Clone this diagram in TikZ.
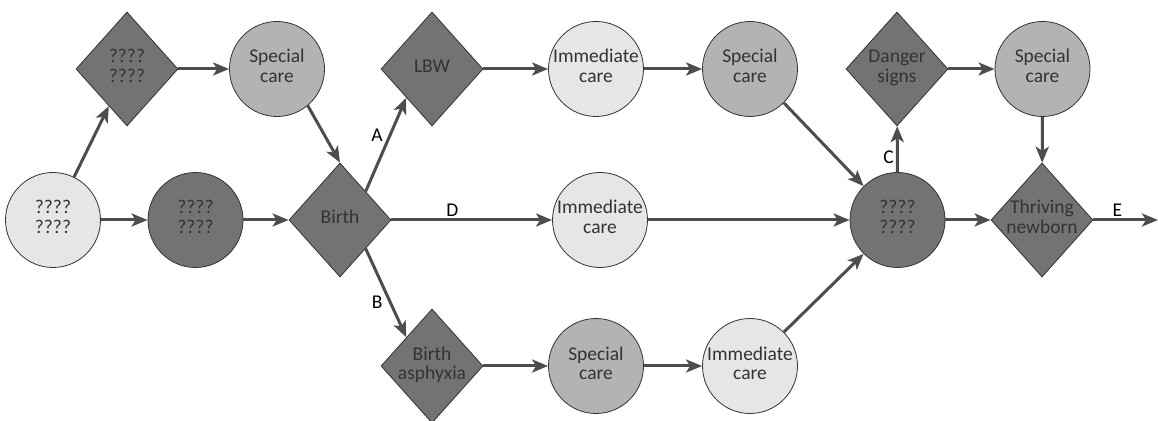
\documentclass[tikz,border=0pt]{standalone}
\usepackage{fontspec}
\setmainfont{Carlito}
\usetikzlibrary{shapes.geometric, arrows.meta}
\definecolor{lightfill}{HTML}{E6E6E6}
\definecolor{midfill}{HTML}{B3B3B3}
\definecolor{darkfill}{HTML}{737373}
\definecolor{arrowgray}{HTML}{4D4D4D}
\definecolor{textgray}{HTML}{333333}
\newcommand{\nlabel}[1]{\makebox[0pt]{\begin{tabular}{@{}c@{}}#1\end{tabular}}}

\begin{document}
\begin{tikzpicture}[x=1pt, y=1pt,
    every node/.style={font=\fontsize{19.5}{20}\selectfont, text=textgray},
    circ/.style={circle, draw=black!80, line width=0.8pt, minimum size=95pt, inner sep=0pt},
    dia/.style={diamond, draw=black!80, line width=0.8pt, minimum width=102pt, minimum height=114pt, inner sep=0pt, fill=darkfill},
    light/.style={circ, fill=lightfill},
    medium/.style={circ, fill=midfill},
    dark/.style={circ, fill=darkfill},
    arr/.style={draw=arrowgray, line width=3pt, -{Stealth[length=16pt, width=13pt, inset=4pt]}},
    tag/.style={text=black, inner sep=2pt}]
    \useasboundingbox (0,0) rectangle (1158,420);
    \node[light] (start) at (53,200) {\nlabel{????\\????}};
    \node[dia] (tq) at (127,351) {\nlabel{????\\????}};
    \node[medium] (sc1) at (277,351) {\nlabel{Special\\care}};
    \node[dark] (mq) at (195.5,200) {\nlabel{????\\????}};
    \node[dia] (birth) at (340,200) {\nlabel{Birth}};
    \node[dia] (lbw) at (432,351) {\nlabel{LBW}};
    \node[light] (imm1) at (596,351) {\nlabel{Immediate\\care}};
    \node[medium] (sc2) at (750,351) {\nlabel{Special\\care}};
    \node[light] (imm2) at (600,200) {\nlabel{Immediate\\care}};
    \node[dia] (bas) at (432,54) {\nlabel{Birth\\asphyxia}};
    \node[medium] (sc3) at (596,54) {\nlabel{Special\\care}};
    \node[light] (imm3) at (750,54) {\nlabel{Immediate\\care}};
    \node[dark] (hub) at (897.5,200) {\nlabel{????\\????}};
    \node[dia] (danger) at (897,351) {\nlabel{Danger\\signs}};
    \node[medium] (sc4) at (1042.5,351) {\nlabel{Special\\care}};
    \node[dia] (thrive) at (1042,200) {\nlabel{Thriving\\newborn}};
    \coordinate (out) at (1158,200);

    \draw[arr] (start) -- (tq);
    \draw[arr] (start) -- (mq);
    \draw[arr] (tq) -- (sc1);
    \draw[arr] (sc1.-50) -- (birth.north);
    \draw[arr] (mq) -- (birth);
    \draw[arr] (birth.north east) -- node[tag, pos=0.6, left=4pt] {A} (lbw.south west);
    \draw[arr] (birth.south east) -- node[tag, pos=0.6, left=4pt] {B} (bas.north west);
    \draw[arr] (birth) -- node[tag, pos=0.38, above] {D} (imm2);
    \draw[arr] (lbw) -- (imm1);
    \draw[arr] (imm1) -- (sc2);
    \draw[arr] (sc2.-45) -- (hub.135);
    \draw[arr] (imm2) -- (hub);
    \draw[arr] (imm3.45) -- (hub.-135);
    \draw[arr] (bas) -- (sc3);
    \draw[arr] (sc3) -- (imm3);
    \draw[arr] (hub) -- node[tag, pos=0.33, left] {C} (danger);
    \draw[arr] (danger) -- (sc4);
    \draw[arr] (sc4) -- (thrive);
    \draw[arr] (hub) -- (thrive);
    \draw[arr] (thrive) -- node[tag, pos=0.37, above] {E} (out);
\end{tikzpicture}
\end{document}
